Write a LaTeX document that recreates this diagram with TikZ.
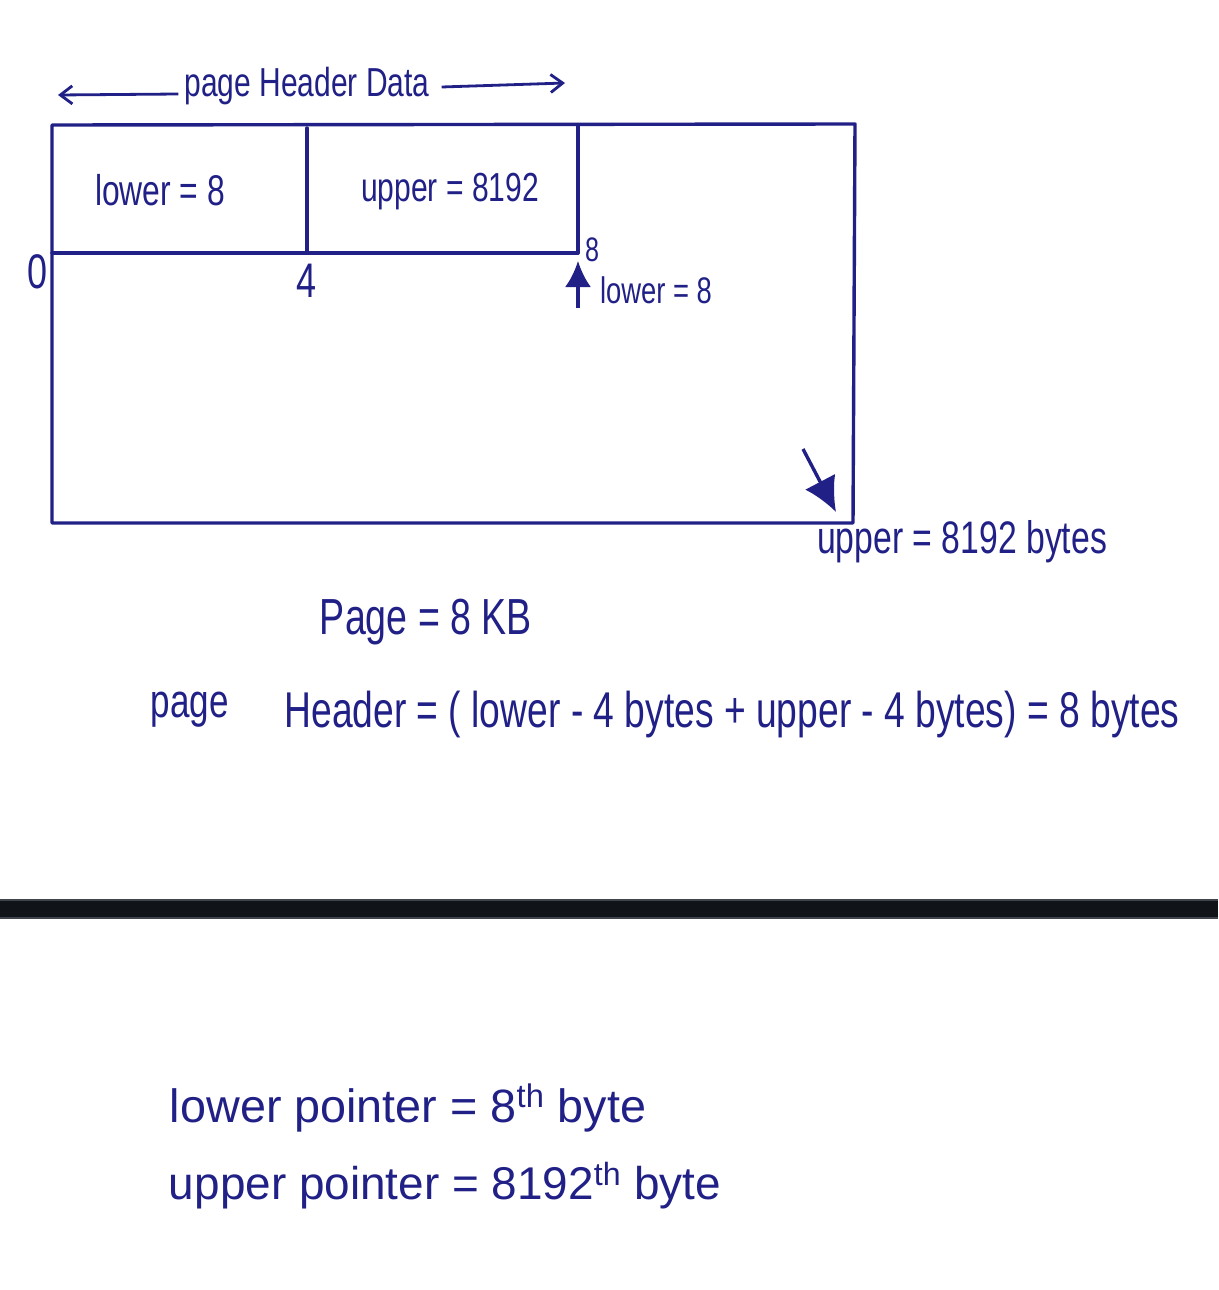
\documentclass[tikz,border=0pt]{standalone}
\usepackage{fontspec}
\usepackage{graphicx}
\setmainfont{Liberation Sans}
\usetikzlibrary{arrows.meta}
\definecolor{ink}{RGB}{32,32,135}
\definecolor{baredge}{RGB}{64,68,76}
\definecolor{barcore}{RGB}{16,19,24}
\newcommand{\fw}[3][1.35]{\scalebox{1}[#1]{\resizebox{#2pt}{!}{#3}}}
\tikzset{
  txt/.style={inner sep=0pt, text=ink, font=\fontsize{30}{34}\selectfont},
  ink line/.style={draw=ink, line width=3.4pt, line cap=round, line join=round},
  thin arrow/.style={draw=ink, line width=2.8pt, -{Straight Barb[length=12pt,width=18pt,line width=2.8pt]}},
  fat arrow/.style={draw=ink, line width=3.4pt, -{Latex[length=34pt,width=34pt]}}
}
\begin{document}
\begin{tikzpicture}[x=1pt,y=-1pt]
\useasboundingbox (0,0) rectangle (1218,1290);
% page box
\coordinate (tl) at (52,125);
\coordinate (tr) at (855,124);
\coordinate (br) at (853,523);
\coordinate (bl) at (52,523);
\draw[ink line] (tl) -- (tr) -- (br) -- (bl) -- cycle;
% header cells
\coordinate (hl) at (52,253);
\coordinate (hr) at (578,253);
\coordinate (d1t) at (307,128);
\coordinate (d1b) at (307,253);
\coordinate (d2t) at (578,126);
\draw[ink line] (hl) -- (hr);
\draw[ink line] (d1t) -- (d1b);
\draw[ink line] (d2t) -- (hr);
% title with arrows
\node[txt] (title) at (307,86) {\fw{245}{page Header Data}};
\coordinate (la) at (58,95);
\coordinate (ra) at (565,83);
\draw[thin arrow] (title.west) ++(-6,8) coordinate (ls) -- (la);
\draw[thin arrow] (title.east) ++(12,1) coordinate (rs) -- (ra);
% cell labels
\node[txt] (lw) at (160,190) {\fw{130}{lower = 8}};
\node[txt] (up) at (450,192) {\fw{178}{upper = 8192}};
% offsets
\node[txt] (z) at (38,272) {\fw{20}{0}};
\node[txt] (four) at (306,281) {\fw{20}{4}};
\node[txt] (eight) at (592,250) {\fw{14}{8}};
% lower arrow
\coordinate (lwbase) at (578,308);
\coordinate (lwtip) at (578,261);
\draw[fat arrow, -{Latex[length=26pt,width=26pt]}] (lwbase) -- (lwtip);
\node[txt] (lw2) at (656,290) {\fw{112}{lower = 8}};
% upper arrow
\coordinate (upbase) at (803,449);
\coordinate (uptip) at (836,512);
\draw[fat arrow] (upbase) -- (uptip);
\node[txt] (up2) at (962,542) {\fw{290}{upper = 8192 bytes}};
% equations
\node[txt] (pg) at (426,622) {\fw{212}{Page = 8 KB}};
\node[txt] (ph1) at (190,710) {\fw{78}{page}};
\node[txt] (ph2) at (732,714) {\fw{895}{Header = ( lower - 4 bytes + upper - 4 bytes) = 8 bytes}};
% separator bar
\fill[baredge] (0,899) rectangle (1218,919);
\fill[barcore] (0,901) rectangle (1218,917);
% pointers
\node[txt] (lp) at (408,1108) {\fw[1.0]{476}{lower pointer = 8\textsuperscript{th} byte}};
\node[txt] (upp) at (445,1186) {\fw[1.0]{552}{upper pointer = 8192\textsuperscript{th} byte}};
\end{tikzpicture}
\end{document}
